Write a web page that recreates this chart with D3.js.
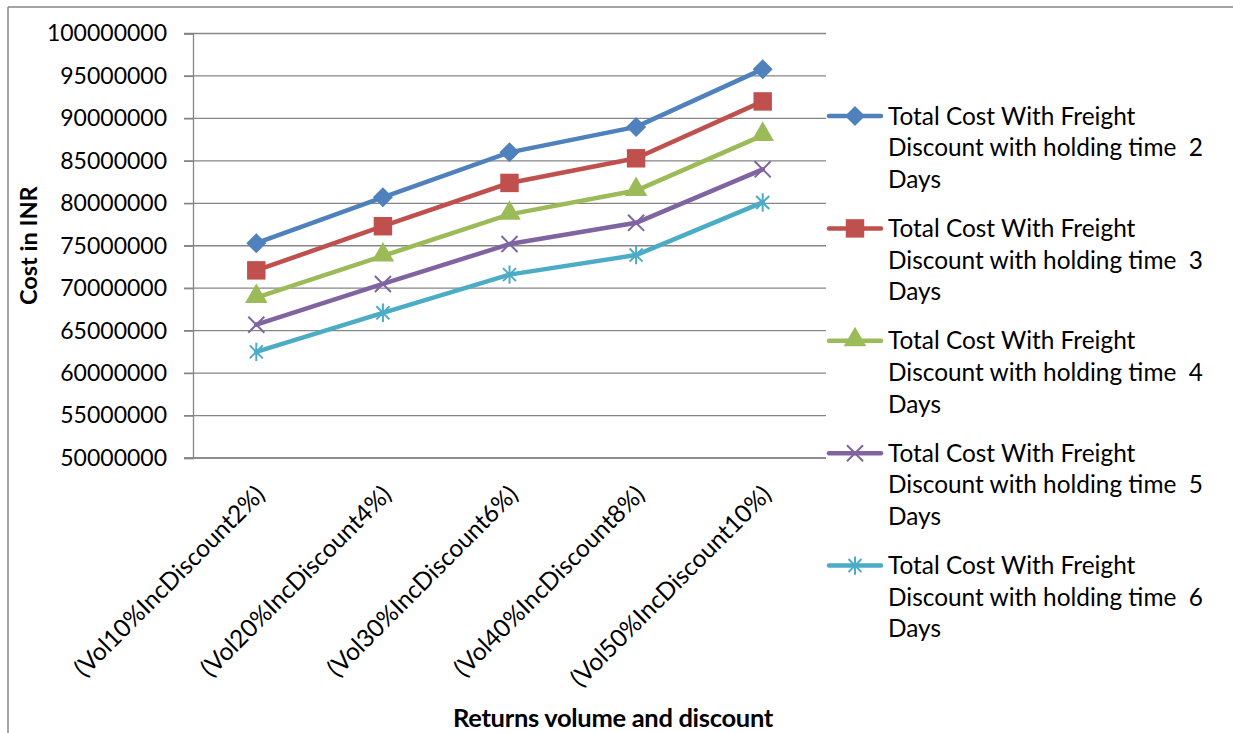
<!DOCTYPE html>
<html>
<head>
<meta charset="utf-8">
<script src="https://cdn.jsdelivr.net/npm/d3@7"></script>
<style>
  html, body { margin: 0; padding: 0; background: #fff; }
  svg { display: block; font-family: Lato, "Open Sans", sans-serif; }
</style>
</head>
<body>
<svg id="chart" width="1233" height="733"></svg>
<script>
// Categories on the x axis
const categories = [
  "(Vol10%IncDiscount2%)",
  "(Vol20%IncDiscount4%)",
  "(Vol30%IncDiscount6%)",
  "(Vol40%IncDiscount8%)",
  "(Vol50%IncDiscount10%)"
];

// Total cost (INR) per holding time
const cost2Days = [75300000, 80700000, 86000000, 89000000, 95800000];
const cost3Days = [72100000, 77300000, 82400000, 85300000, 92000000];
const cost4Days = [68900000, 73800000, 78700000, 81500000, 88000000];
const cost5Days = [65700000, 70500000, 75200000, 77700000, 84000000];
const cost6Days = [62500000, 67100000, 71600000, 73900000, 80100000];

const seriesNames = [
  ["Total Cost With Freight", "Discount with holding time  2", "Days"],
  ["Total Cost With Freight", "Discount with holding time  3", "Days"],
  ["Total Cost With Freight", "Discount with holding time  4", "Days"],
  ["Total Cost With Freight", "Discount with holding time  5", "Days"],
  ["Total Cost With Freight", "Discount with holding time  6", "Days"]
];

const yTicks = [50000000, 55000000, 60000000, 65000000, 70000000, 75000000,
                80000000, 85000000, 90000000, 95000000, 100000000];

const yTitle = "Cost in INR";
const xTitle = "Returns volume and discount";

// Office-style palette and marker kinds
const colors = ["#4F81BD", "#C0504D", "#9BBB59", "#8064A2", "#4BACC6"];
const markers = ["diamond", "square", "triangle", "x", "star"];

const seriesValues = [cost2Days, cost3Days, cost4Days, cost5Days, cost6Days];

// ---- layout ----
const plot = { left: 193, right: 826, top: 33.5, bottom: 458 };

const svg = d3.select("#chart");

// Chart area frame (top and left edges)
svg.append("line").attr("x1", 8).attr("x2", 1233).attr("y1", 7).attr("y2", 7)
  .attr("stroke", "#868686").attr("stroke-width", 1.5);
svg.append("line").attr("x1", 8).attr("x2", 8).attr("y1", 7).attr("y2", 733)
  .attr("stroke", "#868686").attr("stroke-width", 1.5);

const x = d3.scaleBand().domain(categories).range([plot.left, plot.right]).padding(0);
const y = d3.scaleLinear().domain([50000000, 100000000]).range([plot.bottom, plot.top]);
const cx = d => x(d) + x.bandwidth() / 2;

// Horizontal gridlines
svg.append("g").selectAll("line").data(yTicks).join("line")
  .attr("x1", plot.left - 9).attr("x2", plot.right)
  .attr("y1", d => y(d)).attr("y2", d => y(d))
  .attr("stroke", "#868686").attr("stroke-width", 1.3);

// Y axis with labels
const yAxis = svg.append("g")
  .attr("transform", `translate(${plot.left},0)`)
  .call(d3.axisLeft(y).tickValues(yTicks).tickSize(9).tickPadding(17).tickFormat(d3.format("d")));
yAxis.select(".domain").attr("stroke", "#868686").attr("stroke-width", 1.3);
yAxis.selectAll(".tick line").attr("stroke", "#868686").attr("stroke-width", 1.3);
yAxis.selectAll(".tick text")
  .attr("font-family", "Lato, sans-serif").attr("font-size", 23).attr("fill", "#000");

// X axis line
svg.append("line")
  .attr("x1", plot.left - 9).attr("x2", plot.right)
  .attr("y1", plot.bottom).attr("y2", plot.bottom)
  .attr("stroke", "#868686").attr("stroke-width", 1.3);

// Rotated category labels
svg.append("g").selectAll("text").data(categories).join("text")
  .attr("transform", d => `translate(${cx(d) + 4},${plot.bottom + 32}) rotate(-45)`)
  .attr("text-anchor", "end")
  .attr("dy", "0.35em")
  .attr("font-size", 24.5)
  .attr("fill", "#000")
  .text(d => d);

// Axis titles
svg.append("text")
  .attr("transform", `translate(29,${(plot.top + plot.bottom) / 2}) rotate(-90)`)
  .attr("text-anchor", "middle").attr("dy", "0.35em")
  .attr("font-size", 23.5).attr("font-weight", "bold").attr("fill", "#000")
  .text(yTitle);

svg.append("text")
  .attr("x", 613).attr("y", 727)
  .attr("text-anchor", "middle")
  .attr("font-size", 25.5).attr("font-weight", "bold").attr("fill", "#000")
  .attr("letter-spacing", "-0.3")
  .text(xTitle);

// Excel-like star: an X with a vertical bar
const symbolStar6 = {
  draw(ctx, size) {
    const r = Math.sqrt(size) / 2;
    const d = r * Math.SQRT1_2;
    ctx.moveTo(0, -r); ctx.lineTo(0, r);
    ctx.moveTo(-d, -d); ctx.lineTo(d, d);
    ctx.moveTo(-d, d); ctx.lineTo(d, -d);
  }
};

function markerPath(kind) {
  switch (kind) {
    case "diamond": return d3.symbol(d3.symbolSquare, 200)();
    case "square": return d3.symbol(d3.symbolSquare, 340)();
    case "triangle": return d3.symbol(d3.symbolTriangle, 220)();
    case "x": return d3.symbol(d3.symbolTimes, 170)();
    case "star": return d3.symbol(symbolStar6, 340)();
  }
}

function drawMarker(g, kind, color) {
  const p = g.append("path").attr("d", markerPath(kind));
  if (kind === "diamond") p.attr("transform", "rotate(45)");
  if (kind === "triangle") p.attr("transform", "translate(0,-1)");
  if (kind === "x" || kind === "star") {
    p.attr("fill", "none").attr("stroke", color).attr("stroke-width", 2);
  } else {
    p.attr("fill", color);
  }
}

const line = d3.line().x((d, i) => cx(categories[i])).y(d => y(d));

seriesValues.forEach((vals, s) => {
  const g = svg.append("g");
  g.append("path")
    .attr("d", line(vals))
    .attr("fill", "none")
    .attr("stroke", colors[s])
    .attr("stroke-width", 4.5)
    .attr("stroke-linejoin", "round")
    .attr("stroke-linecap", "round");
  vals.forEach((v, i) => {
    const m = g.append("g").attr("transform", `translate(${cx(categories[i])},${y(v)})`);
    drawMarker(m, markers[s], colors[s]);
  });
});

// Legend
const legend = svg.append("g");
seriesNames.forEach((lines, s) => {
  const top = 116 + s * 112.4;
  const item = legend.append("g").attr("transform", `translate(0,${top})`);
  item.append("line")
    .attr("x1", 829).attr("x2", 881).attr("y1", 0).attr("y2", 0)
    .attr("stroke", colors[s]).attr("stroke-width", 4.5).attr("stroke-linecap", "round");
  const m = item.append("g").attr("transform", "translate(855,0)");
  drawMarker(m, markers[s], colors[s]);
  item.selectAll("text").data(lines).join("text")
    .attr("x", 888)
    .attr("y", (d, i) => i * 31.6)
    .attr("dy", "0.35em")
    .attr("font-size", 24.4)
    .attr("fill", "#000")
    .style("white-space", "pre")
    .text(d => d);
});
</script>
</body>
</html>
